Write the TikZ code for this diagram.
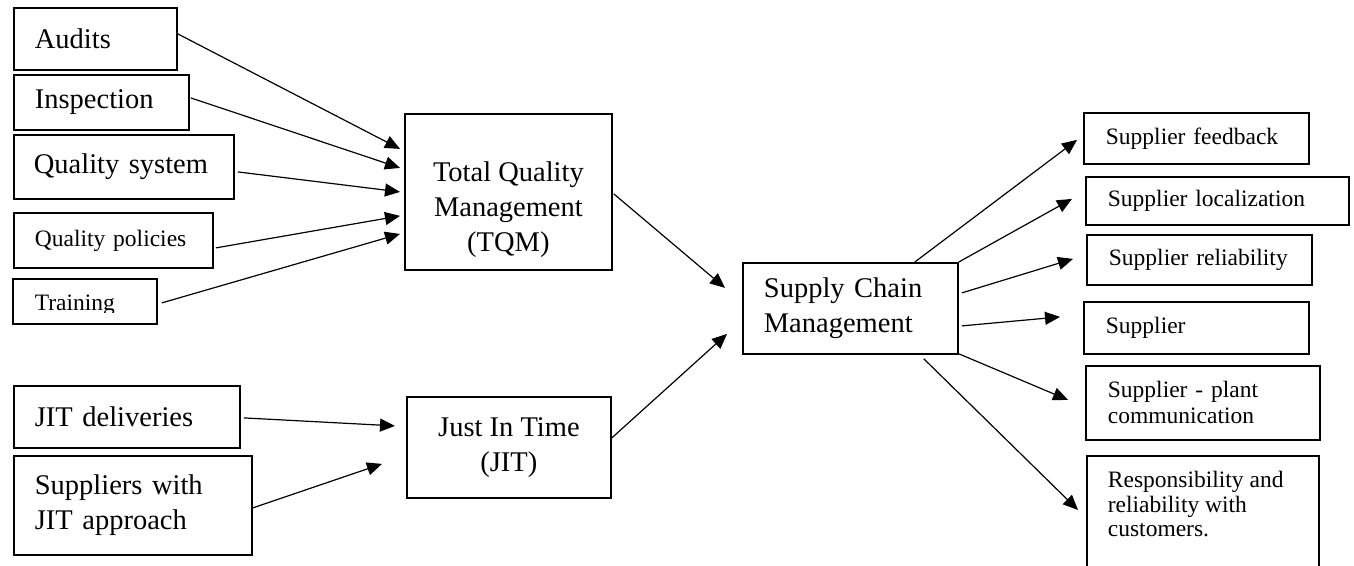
\documentclass[tikz,border=0pt]{standalone}
\usepackage{fontspec}
\setmainfont{Liberation Serif}
\usetikzlibrary{arrows.meta}
\tikzset{
  box/.style={draw, line width=1.8pt, inner sep=0pt, anchor=north west},
  bigf/.style={font=\fontsize{28.5}{35}\selectfont},
  smallf/.style={font=\fontsize{23.5}{24.5}\selectfont},
  lt/.style={align=left, text width=#1},
  arr/.style={-{Triangle[length=15pt,width=13pt]}, line width=1.2pt},
}
\begin{document}
\begin{tikzpicture}[x=1pt, y=-1pt]
\useasboundingbox (0,0) rectangle (1354,565);
\clip (0,0) rectangle (1354,565);
% left inputs to TQM
\node[box, bigf, lt=121pt, minimum width=163pt, minimum height=62pt] (audits) at (13,7) {Audits};
\node[box, bigf, lt=133pt, minimum width=175pt, minimum height=55pt] (insp) at (13,74) {Inspection};
\node[box, bigf, lt=180pt, minimum width=220pt, minimum height=64pt] (qsys) at (13,134) {Quality system};
\node[box, smallf, lt=157pt, minimum width=199pt, minimum height=55pt] (qpol) at (13,212) {Quality policies};
\node[box, minimum width=144pt, minimum height=45pt,
  path picture={
    \clip ([yshift=11pt]path picture bounding box.south west) rectangle (path picture bounding box.north east);
    \node[draw=none, minimum width=0pt, minimum height=0pt, inner sep=0pt, anchor=base west, smallf]
      at ([xshift=21pt,yshift=13pt]path picture bounding box.south west) {Training};
  }] (training) at (12,278) {};
% JIT inputs
\node[box, bigf, lt=184pt, minimum width=226pt, minimum height=62pt] (jdel) at (13,385) {JIT deliveries};
\node[box, bigf, lt=196pt, minimum width=238pt, minimum height=99pt] (swjit) at (13,455) {Suppliers with\\JIT approach};
% middle
\node[box, bigf] (tqm) at (404,113)
  {\parbox[t][156pt][t]{207pt}{\centering\rule{0pt}{68pt}Total Quality\\Management\\(TQM)}};
\node[box, bigf, align=center, minimum width=204pt, minimum height=101pt] (jit) at (406,396) {Just In Time\\(JIT)};
\node[box, bigf, lt=173pt, minimum width=215pt, minimum height=91pt] (scm) at (742,262) {Supply Chain\\Management};
% right outputs
\node[box, smallf, lt=181pt, minimum width=225pt, minimum height=51pt] (sfb) at (1083,112) {Supplier feedback};
\node[box, smallf, lt=219pt, minimum width=263pt, minimum height=48pt] (sloc) at (1085,176) {Supplier localization};
\node[box, smallf, lt=181pt, minimum width=225pt, minimum height=50pt] (srel) at (1086,234) {Supplier reliability};
\node[box, smallf, lt=181pt, minimum width=225pt, minimum height=52pt] (sup) at (1083,301) {Supplier};
\node[box, smallf, lt=190pt, minimum width=234pt, minimum height=74pt] (spc) at (1085,365) {Supplier - plant\\[1.5pt]communication};
\node[box, smallf, inner xsep=21pt, inner ysep=0pt] (resp) at (1086,455)
  {\parbox[t][140pt][t]{190pt}{\raggedright\rule{0pt}{32pt}Responsibility and\\reliability with\\customers.}};
% arrows into TQM
\draw[arr] ([shift={(0,-5)}]audits.east) -- ([shift={(-4,-43)}]tqm.west);
\draw[arr] ([shift={(1,-4.5)}]insp.east) -- ([shift={(-4,-24)}]tqm.west);
\draw[arr] ([shift={(3,5)}]qsys.east) -- ([shift={(-4,0)}]tqm.west);
\draw[arr] ([shift={(2,7.5)}]qpol.east) -- ([shift={(-4,24)}]tqm.west);
\draw[arr] ([shift={(4,1.5)}]training.east) -- ([shift={(-4,42)}]tqm.west);
% arrows into JIT
\draw[arr] ([shift={(3,1)}]jdel.east) -- ([shift={(-11,-21.5)}]jit.west);
\draw[arr] ([shift={(0,2.5)}]swjit.east) -- ([shift={(-24,16.5)}]jit.west);
% arrows into SCM
\draw[arr] ([shift={(1,2)}]tqm.east) -- ([shift={(-17,-20.5)}]scm.west);
\draw[arr] ([shift={(0,-9.5)}]jit.east) -- ([shift={(-15,25.5)}]scm.west);
% arrows out of SCM
\draw[arr] ([shift={(-44,0)}]scm.north east) -- ([shift={(-6,1.5)}]sfb.west);
\draw[arr] (scm.north east) -- ([shift={(-13,-2)}]sloc.west);
\draw[arr] ([shift={(3,-15.5)}]scm.east) -- ([shift={(-13,-1)}]srel.west);
\draw[arr] ([shift={(3,17.5)}]scm.east) -- ([shift={(-23,-11)}]sup.west);
\draw[arr] ([shift={(0,-1)}]scm.south east) -- ([shift={(-17,-3)}]spc.west);
\draw[arr] ([shift={(-35,4)}]scm.south east) -- ([shift={(-8,55)}]resp.north west);
\end{tikzpicture}
\end{document}
